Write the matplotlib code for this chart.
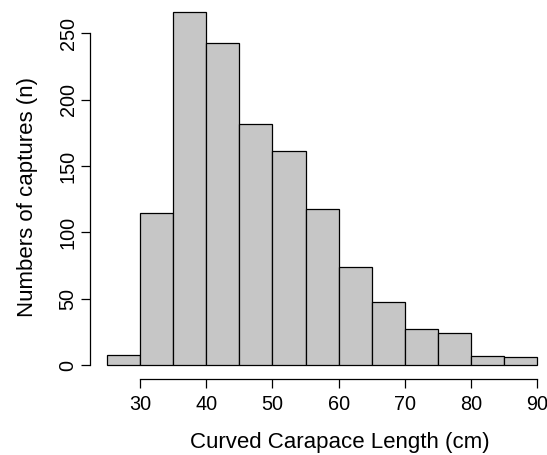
import numpy as np
import matplotlib.pyplot as plt

# -------------------
# DATA
# -------------------
bin_edges = [25, 30, 35, 40, 45, 50, 55, 60, 65, 70, 75, 80, 85, 90]
counts = [8, 115, 266, 243, 182, 161, 118, 74, 48, 27, 24, 7, 6]
x_ticks = [30, 40, 50, 60, 70, 80, 90]
y_ticks = [0, 50, 100, 150, 200, 250]

plt.rcParams["font.family"] = ["Liberation Sans", "DejaVu Sans"]

# -------------------
# PLOT (R hist() look)
# -------------------
fig = plt.figure(figsize=(5.47, 4.55), dpi=100)
# plot region runs past the right edge (the original was cropped)
ax = fig.add_axes([0.1647, 0.1662, 0.8481, 0.8385])

edges = np.array(bin_edges)
ax.bar(edges[:-1], counts, width=np.diff(edges), align="edge",
       color="#c6c6c6", edgecolor="black", linewidth=0.9)

rng = edges[-1] - edges[0]
ax.set_xlim(edges[0] - 0.04 * rng, edges[-1] + 0.04 * rng)
top = max(counts)
ax.set_ylim(-0.04 * top, top * 1.04)

for s in ["top", "right"]:
    ax.spines[s].set_visible(False)
ax.spines["left"].set_bounds(y_ticks[0], y_ticks[-1])
ax.spines["bottom"].set_bounds(x_ticks[0], x_ticks[-1])
ax.spines["left"].set_linewidth(0.9)
ax.spines["bottom"].set_linewidth(0.9)

ax.set_xticks(x_ticks)
ax.set_yticks(y_ticks)
ax.tick_params(axis="both", direction="out", length=6.5, width=0.9, labelsize=14.3)
ax.tick_params(axis="x", pad=4.5)
ax.tick_params(axis="y", pad=2.5)
for lab in ax.get_yticklabels():
    lab.set_rotation(90)
    lab.set_va("center")

ax.set_xlabel("Curved Carapace Length (cm)", fontsize=16, va="center")
ax.xaxis.set_label_coords(0.5387, -0.1667)
ax.set_ylabel("Numbers of captures (n)", fontsize=16, va="center", ha="center")
ax.yaxis.set_label_coords(-0.135, 0.479)

fig.savefig("out.png", dpi=100)
